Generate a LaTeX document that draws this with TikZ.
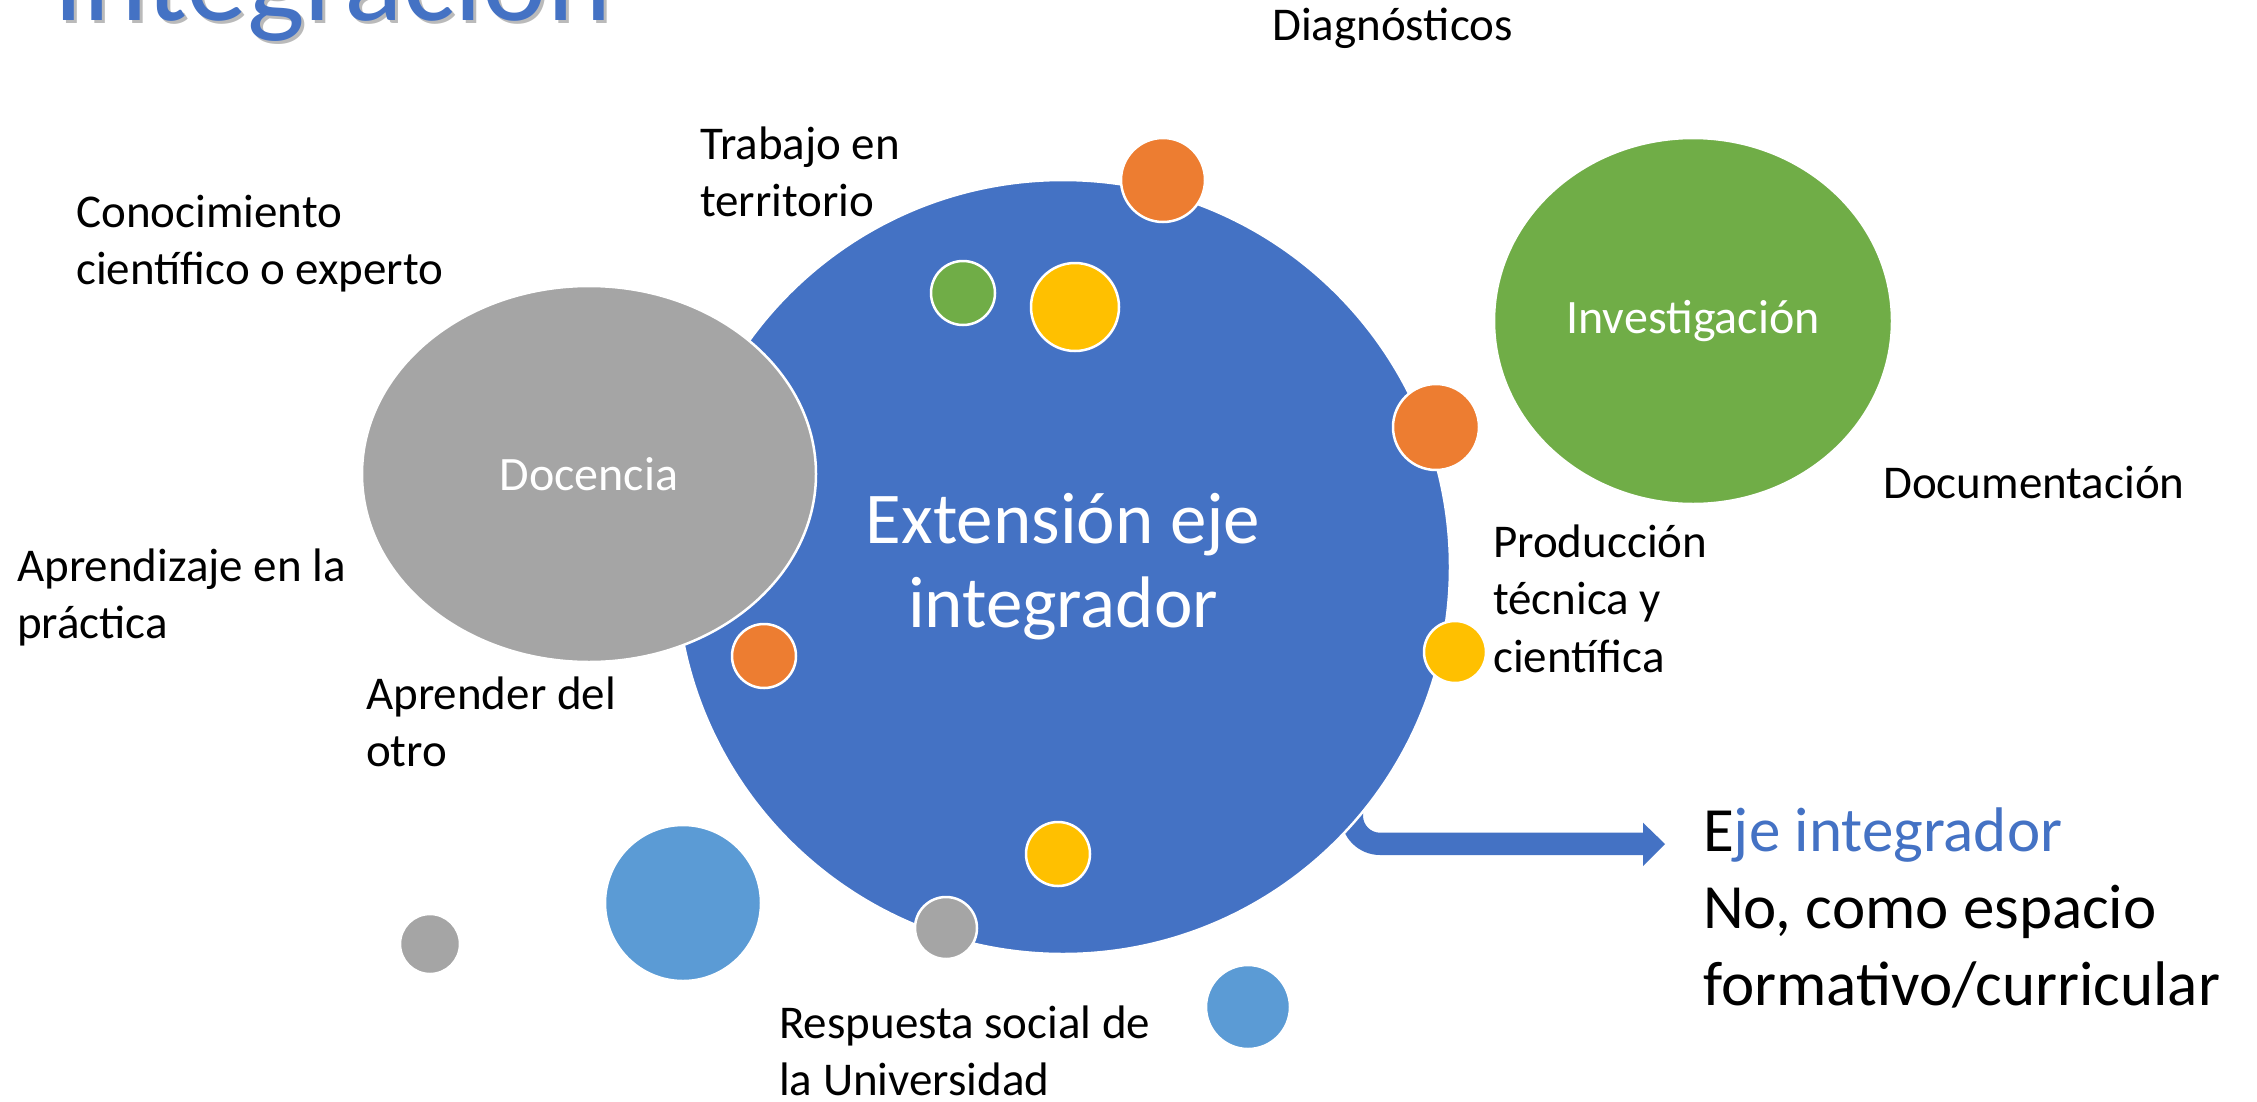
\documentclass[tikz,border=0pt]{standalone}
\usepackage{fontspec}
\setmainfont{Carlito}
\usetikzlibrary{shapes.geometric}
\definecolor{pblue}{HTML}{4472C4}
\definecolor{porange}{HTML}{ED7D31}
\definecolor{pgray}{HTML}{A5A5A5}
\definecolor{pyellow}{HTML}{FFC000}
\definecolor{pgreen}{HTML}{70AD47}
\definecolor{plblue}{HTML}{5B9BD5}
\begin{document}
\begin{tikzpicture}[x=1pt,y=-1pt,
  dot/.style={circle, draw=white, line width=2.5pt, inner sep=0pt, minimum size=#1},
  blob/.style={ellipse, draw=white, line width=2.5pt, inner sep=0pt, text=white,
    font=\fontsize{48}{58}\selectfont},
  lbl/.style={anchor=base west, inner sep=0pt, align=left, font=\fontsize{47}{57.5}\selectfont},
  bigtxt/.style={anchor=base west, inner sep=0pt, align=left, font=\fontsize{63}{77}\selectfont},
]
\useasboundingbox (0,0) rectangle (2257,1101);
\clip (0,0) rectangle (2257,1101);
\fill[white] (0,0) rectangle (2257,1101);

% title (cut off at the top)
\node[anchor=base west, inner sep=0pt, text=black!45, opacity=0.6,
  font=\fontsize{122}{140}\selectfont] (titleshadow) at (56,23) {Integración};
\node[anchor=base west, inner sep=0pt, text=pblue,
  font=\fontsize{122}{140}\selectfont] (title) at (53,20) {Integración};

% bent block arrow (behind the main circle)
\fill[pblue] (1341,690) -- (1341,816) arc[start angle=180, end angle=90, radius=39]
  -- (1643,855) -- (1643,866) -- (1665,844) -- (1643,822.7) -- (1643,832.7)
  -- (1380,832.7) arc[start angle=90, end angle=180, radius=17] -- (1363,690) -- cycle;

% main circle
\node[circle, fill=pblue, draw=white, line width=2.5pt, minimum size=774pt, inner sep=0pt,
  text=white, align=center, font=\fontsize{73}{84}\selectfont] (ext) at (1063,567)
  {Extensión eje\\integrador};

% docencia / investigacion
\node[blob, fill=pgray, minimum width=454pt, minimum height=376pt] (doc) at (589,474) {Docencia};
\node[blob, fill=pgreen, minimum width=398pt, minimum height=366pt] (inv) at (1693,321) {Investigación};

% small circles
\node[dot=84pt, fill=porange] (o1) at (1163,180) {};
\node[dot=64pt, fill=pgreen] (g1) at (963,293) {};
\node[dot=88pt, fill=pyellow] (y1) at (1075,307) {};
\node[dot=86pt, fill=porange] (o2) at (1436,427) {};
\node[dot=64pt, fill=porange] (o3) at (764,656) {};
\node[dot=62pt, fill=pyellow] (y2) at (1455,652) {};
\node[dot=64pt, fill=pyellow] (y3) at (1058,854) {};
\node[dot=62pt, fill=pgray] (gr1) at (946,928) {};
\node[dot=156pt, fill=plblue] (lb1) at (683,903) {};
\node[dot=60pt, fill=pgray] (gr2) at (430,944) {};
\node[dot=84pt, fill=plblue] (lb2) at (1248,1007) {};

% labels (a multi-line node's base is the baseline of its last line)
\node[lbl] (diag) at (1272,40) {Diagnósticos};
\node[lbl] (trab) at (700,216.5) {Trabajo en\\territorio};
\node[lbl] (cono) at (76,284.5) {Conocimiento\\científico o experto};
\node[lbl] (apre) at (17,638.5) {Aprendizaje en la\\práctica};
\node[lbl] (otro) at (366,766.5) {Aprender del\\otro};
\node[lbl] (resp) at (779,1095.5) {Respuesta social de\\la Universidad};
\node[lbl] (prod) at (1493,672) {Producción\\técnica y\\científica};
\node[lbl] (docu) at (1883,498) {Documentación};
\node[bigtxt] (eje) at (1703,1005) {E\textcolor{pblue}{je integrador}\\No, como espacio\\formativo/curricular};
\end{tikzpicture}
\end{document}
